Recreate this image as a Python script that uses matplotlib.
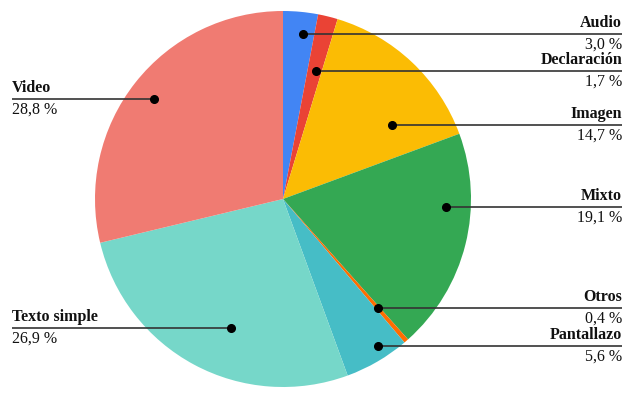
import numpy as np
import matplotlib
matplotlib.use('Agg')
import matplotlib.pyplot as plt

# Data
labels = ['Audio', 'Declaración', 'Imagen', 'Mixto', 'Otros', 'Pantallazo', 'Texto simple', 'Video']
values = [3.0, 1.7, 14.7, 19.1, 0.4, 5.6, 26.9, 28.8]
colors = ['#4285F4', '#EA4335', '#FBBC04', '#34A853', '#FF6D01', '#46BDC6', '#76D7C9', '#F07B72']

# Label layout (pixel rows of leader lines, dot radius as fraction of pie radius)
line_px = [34, 71, 125, 207, 308, 346, 328, 99]
dot_frac = [0.884, 0.703, 0.70, 0.87, 0.77, 0.93, 0.74, 0.87]
side = [1, 1, 1, 1, 1, 1, -1, -1]

W, H = 640, 395
cx, cy, R = 283, 199, 188  # pie centre and radius in pixels

fig = plt.figure(figsize=(W / 100, H / 100), dpi=100)
ax = fig.add_axes([0, 0, 1, 1])

ax.pie(values, colors=colors, startangle=90, counterclock=False, radius=1.0,
       wedgeprops=dict(linewidth=0))

ax.set_aspect('auto')
ax.set_xlim(-cx / R, (W - cx) / R)
ax.set_ylim(-(H - cy) / R, cy / R)
ax.axis('off')

font = ['Liberation Serif', 'DejaVu Serif']
x_right = (622 - cx) / R
x_left = (12 - cx) / R
for name, v, lp, fr, s in zip(labels, values, line_px, dot_frac, side):
    y = (cy - lp) / R
    x = s * np.sqrt(max((fr) ** 2 - y ** 2, 0))
    xend = x_right if s > 0 else x_left
    ax.plot([x, xend], [y, y], color='#333333', lw=1.2, solid_capstyle='butt')
    ax.plot(x, y, 'o', color='black', ms=5.5)
    ha = 'right' if s > 0 else 'left'
    ax.text(xend, y + 3 / R, name, ha=ha, va='bottom', fontsize=11.5,
            fontweight='bold', family=font, color='#111111')
    ax.text(xend, y - 3 / R, f'{v:.1f} %'.replace('.', ','), ha=ha, va='top',
            fontsize=11.5, family=font, color='#111111')

fig.savefig('out.png', dpi=100)
